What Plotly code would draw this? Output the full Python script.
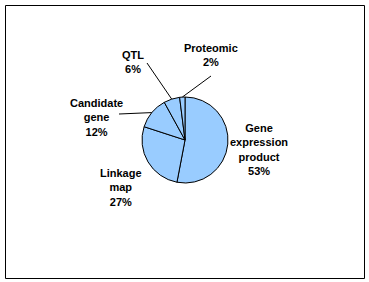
import math
import plotly.graph_objects as go

labels = ["Gene expression product", "Linkage map", "Candidate gene", "QTL", "Proteomic"]
label_text = ["Gene<br>expression<br>product", "Linkage<br>map", "Candidate<br>gene", "QTL", "Proteomic"]
values = [53, 27, 12, 6, 2]

W, H = 369, 282
CX, CY, R = 185, 140, 43

# label text centres (pixels) and leader line tails (None = no leader)
label_pos = [(259, 149), (121, 187), (96, 117), (133, 62), (211, 55)]
leader_tail = [None, None, (119, 114), (147, 63), (211, 76)]

def px(x):
    return x / W

def py(y):
    return 1 - y / H

fig = go.Figure()
fig.add_trace(go.Pie(
    labels=labels, values=values, sort=False, direction="clockwise", rotation=0,
    textinfo="none", hoverinfo="skip", showlegend=False,
    marker=dict(colors=["#99CCFF"] * len(values), line=dict(color="black", width=1)),
    domain=dict(x=[px(CX - R), px(CX + R)], y=[py(CY + R), py(CY - R)]),
))

total = sum(values)
cum = 0
shapes = [dict(type="rect", xref="paper", yref="paper", x0=px(5.5), x1=px(364.5),
               y0=py(278.5), y1=py(5.5), line=dict(color="black", width=1))]
annotations = []
for i, v in enumerate(values):
    mid = (cum + v / 2) / total * 2 * math.pi
    cum += v
    pct = round(v / total * 100)
    lx, ly = label_pos[i]
    annotations.append(dict(
        x=px(lx), y=py(ly), xref="paper", yref="paper", showarrow=False,
        xanchor="center", yanchor="middle",
        text=f"{label_text[i]}<br>{pct}%", align="center",
        font=dict(family="Liberation Sans, Arial", size=11, color="black", weight="bold"),
    ))
    if leader_tail[i] is not None:
        ex = CX + R * math.sin(mid)
        ey = CY - R * math.cos(mid)
        tx, ty = leader_tail[i]
        shapes.append(dict(type="line", xref="paper", yref="paper",
                           x0=px(tx), y0=py(ty), x1=px(ex), y1=py(ey),
                           line=dict(color="black", width=1)))

fig.update_layout(
    width=W, height=H, margin=dict(l=0, r=0, t=0, b=0),
    paper_bgcolor="white", plot_bgcolor="white",
    shapes=shapes, annotations=annotations,
)
fig.write_html("out.html")
